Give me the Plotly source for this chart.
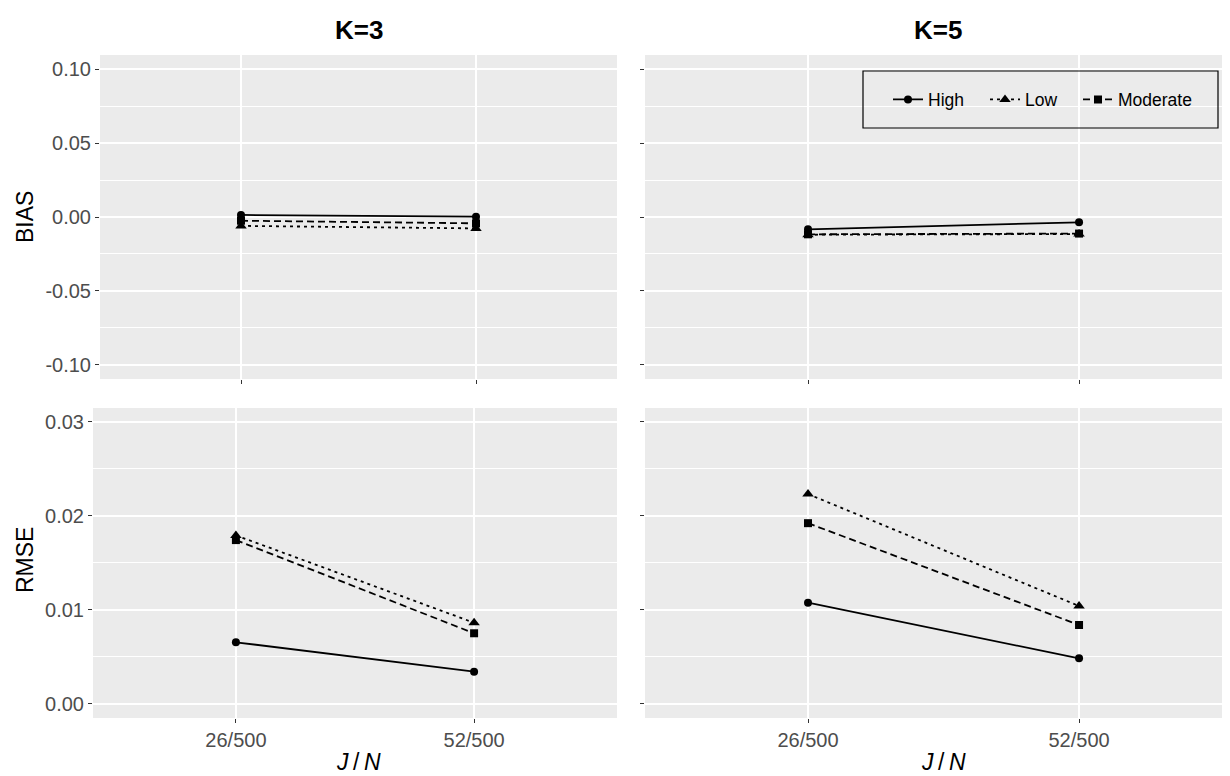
import plotly.graph_objects as go

# ---- data ----
categories = ["26/500", "52/500"]
groups = ["High", "Low", "Moderate"]

bias_k3_high = [0.0014, 0.0002]
bias_k3_low = [-0.0060, -0.0077]
bias_k3_moderate = [-0.0025, -0.0043]

bias_k5_high = [-0.0083, -0.0036]
bias_k5_low = [-0.0120, -0.0115]
bias_k5_moderate = [-0.0117, -0.0112]

rmse_k3_high = [0.00652, 0.00339]
rmse_k3_low = [0.0179, 0.0086]
rmse_k3_moderate = [0.0174, 0.00748]

rmse_k5_high = [0.01073, 0.00481]
rmse_k5_low = [0.0223, 0.01038]
rmse_k5_moderate = [0.0192, 0.00836]

bias_ticks = [-0.10, -0.05, 0.00, 0.05, 0.10]
bias_labels = ["-0.10", "-0.05", "0.00", "0.05", "0.10"]
rmse_ticks = [0.00, 0.01, 0.02, 0.03]
rmse_labels = ["0.00", "0.01", "0.02", "0.03"]

# ---- styling ----
PAGE_OFF = 8            # default body margin of the html page
W, H = 1230 - PAGE_OFF, 776 - PAGE_OFF
FONT = "Liberation Sans, Arial, sans-serif"
styles = {
    "High": dict(dash="solid", symbol="circle", size=8, legend="legend", lx=888),
    "Low": dict(dash="3px,4px", symbol="triangle-up", size=10, legend="legend2", lx=985),
    "Moderate": dict(dash="7px,4px", symbol="square", size=8, legend="legend3", lx=1078),
}


def xp(px):
    return (px - PAGE_OFF) / W


def yp(py):
    return 1 - (py - PAGE_OFF) / H


panels = [
    ("x", "y", {"High": bias_k3_high, "Low": bias_k3_low, "Moderate": bias_k3_moderate}),
    ("x2", "y2", {"High": bias_k5_high, "Low": bias_k5_low, "Moderate": bias_k5_moderate}),
    ("x3", "y3", {"High": rmse_k3_high, "Low": rmse_k3_low, "Moderate": rmse_k3_moderate}),
    ("x4", "y4", {"High": rmse_k5_high, "Low": rmse_k5_low, "Moderate": rmse_k5_moderate}),
]

fig = go.Figure()
for i, (xa, ya, data) in enumerate(panels):
    for g in groups:
        s = styles[g]
        fig.add_trace(go.Scatter(
            x=categories, y=data[g], xaxis=xa, yaxis=ya,
            mode="lines+markers", name=g, legendgroup=g, legend=s["legend"],
            showlegend=(i == 1),
            line=dict(color="black", width=1.8, dash=s["dash"]),
            marker=dict(color="black", symbol=s["symbol"], size=s["size"]),
        ))

GRID = "white"
tickfont = dict(family=FONT, size=20, color="#4D4D4D")


def xaxis(domain, anchor, rng, labels):
    return dict(domain=domain, anchor=anchor, type="category", range=rng,
                showgrid=True, gridcolor=GRID, gridwidth=1.6, zeroline=False,
                showline=False, ticks="outside", ticklen=4, tickwidth=1.2,
                tickcolor="#333333", showticklabels=labels, tickfont=tickfont)


def yaxis(domain, anchor, rng, tickvals, ticktext, minor_dtick, labels):
    return dict(domain=domain, anchor=anchor, range=rng, tickvals=tickvals,
                ticktext=ticktext, showgrid=True, gridcolor=GRID, gridwidth=1.6,
                zeroline=False, showline=False, ticks="outside", ticklen=4,
                tickwidth=1.2, tickcolor="#333333", showticklabels=labels,
                tickfont=tickfont,
                minor=dict(dtick=minor_dtick, tick0=0, showgrid=True,
                           gridcolor=GRID, gridwidth=0.7, ticks=""))


def legend(px):
    return dict(orientation="h", x=xp(px), y=yp(99.5), xanchor="left",
                yanchor="middle", bgcolor="rgba(0,0,0,0)", borderwidth=0,
                font=dict(family=FONT, size=17.5, color="black"),
                itemwidth=30)


top = [yp(379), yp(55)]
bot = [yp(718), yp(408)]
bias_range = [-0.1095, 0.1095]
rmse_range = [-0.00154, 0.03146]

fig.update_layout(
    width=W, height=H,
    margin=dict(l=0, r=0, t=0, b=0),
    paper_bgcolor="white", plot_bgcolor="#EBEBEB",
    font=dict(family=FONT, color="black"),
    xaxis=xaxis([xp(100), xp(617)], "y", [-0.6, 1.6], False),
    xaxis2=xaxis([xp(645), 1.0], "y2", [-0.6015, 1.557], False),
    xaxis3=xaxis([xp(93), xp(617)], "y3", [-0.6, 1.6], True),
    xaxis4=xaxis([xp(645), 1.0], "y4", [-0.6015, 1.557], True),
    yaxis=yaxis(top, "x", bias_range, bias_ticks, bias_labels, 0.025, True),
    yaxis2=yaxis(top, "x2", bias_range, bias_ticks, bias_labels, 0.025, False),
    yaxis3=yaxis(bot, "x3", rmse_range, rmse_ticks, rmse_labels, 0.005, True),
    yaxis4=yaxis(bot, "x4", rmse_range, rmse_ticks, rmse_labels, 0.005, False),
    legend=legend(styles["High"]["lx"]),
    legend2=legend(styles["Low"]["lx"]),
    legend3=legend(styles["Moderate"]["lx"]),
    showlegend=True,
)

# legend frame
fig.add_shape(type="rect", xref="paper", yref="paper",
              x0=xp(863), x1=xp(1218), y0=yp(128), y1=yp(71),
              line=dict(color="black", width=1.2), fillcolor="rgba(0,0,0,0)")

ann = [
    dict(text="<b>K=3</b>", x=xp(358.5), y=yp(30), size=26),
    dict(text="<b>K=5</b>", x=xp(937.5), y=yp(30), size=26),
    dict(text="<i>J</i>\u2009/\u2009<i>N</i>", x=xp(358.5), y=yp(762), size=23),
    dict(text="<i>J</i>\u2009/\u2009<i>N</i>", x=xp(943), y=yp(762), size=23),
]
for a in ann:
    fig.add_annotation(text=a["text"], x=a["x"], y=a["y"], xref="paper",
                       yref="paper", showarrow=False, xanchor="center",
                       yanchor="middle",
                       font=dict(family=FONT, size=a["size"], color="black"))

for txt, py in [("BIAS", 217), ("RMSE", 560)]:
    fig.add_annotation(text=txt, x=xp(25), y=yp(py), xref="paper", yref="paper",
                       showarrow=False, textangle=-90, xanchor="center",
                       yanchor="middle",
                       font=dict(family=FONT, size=23, color="black"))

fig.write_html("out.html")
